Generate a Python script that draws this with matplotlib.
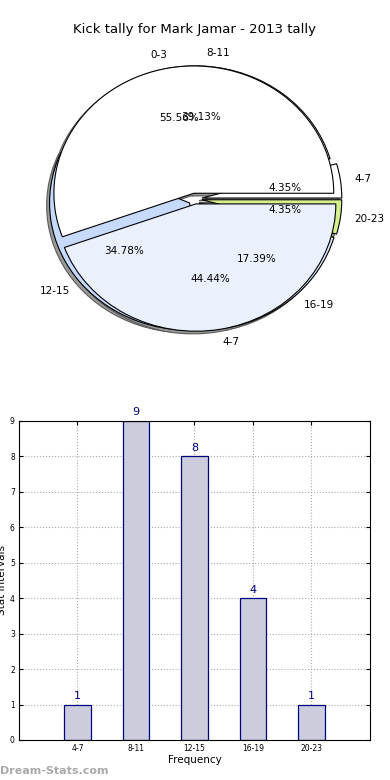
import matplotlib
matplotlib.use("Agg")
import matplotlib.pyplot as plt

# Pie A: kick tally by interval
kick_labels = ["4-7", "8-11", "12-15", "16-19", "20-23"]
kick_counts = [1, 9, 8, 4, 1]
kick_colors = ["#ffffff", "#ffffff", "#c6dafc", "#dce7fb", "#d6ee8c"]
kick_explode = [0.05, 0.045, 0.05, 0.045, 0.05]

# Pie B: second tally overlaid
other_labels = ["0-3", "4-7"]
other_counts = [5, 4]
other_colors = ["#ffffff", "#eaf0fc"]
other_explode = [0.045, 0.04]

# Bar chart
bar_labels = ["4-7", "8-11", "12-15", "16-19", "20-23"]
bar_values = [1, 9, 8, 4, 1]
y_ticks = [0, 1, 2, 3, 4, 5, 6, 7, 8, 9]

fig = plt.figure(figsize=(3.9, 7.8), dpi=100)

ax1 = fig.add_axes([0.0513, 0.541, 0.897, 0.408])
wp = dict(edgecolor="black", linewidth=0.8)
tp = dict(fontsize=7.5)
sh = dict(ox=-0.015, oy=-0.015, facecolor="#9a9a9a", edgecolor="#5a5a5a",
          linewidth=0.8, alpha=1.0)
ax1.pie(kick_counts, labels=kick_labels, colors=kick_colors, explode=kick_explode,
        autopct="%.2f%%", shadow=sh, startangle=0, wedgeprops=wp, textprops=tp)
ax1.pie(other_counts, labels=other_labels, colors=other_colors, explode=other_explode,
        autopct="%.2f%%", shadow=sh, startangle=0, wedgeprops=wp, textprops=tp)
ax1.set_aspect("auto")
ax1.set_xlim(-1.25, 1.25)
ax1.set_ylim(-1.25, 1.25)
ax1.axis("off")
ax1.set_title("Kick tally for Mark Jamar - 2013 tally", fontsize=9.5, pad=5)

ax2 = fig.add_axes([0.0487, 0.0513, 0.9, 0.409])
x = list(range(len(bar_labels)))
bars = ax2.bar(x, bar_values, width=0.45, color="#ccccdd", edgecolor="#000080",
               linewidth=0.9, zorder=2)
for xi, v in zip(x, bar_values):
    ax2.text(xi, v + 0.1, str(v), ha="center", va="bottom", color="#000080", fontsize=8)
ax2.set_xlim(-1, 5)
ax2.set_ylim(0, 9)
ax2.set_xticks(x)
ax2.set_xticklabels(bar_labels, fontsize=5.5)
ax2.set_yticks(y_ticks)
ax2.set_yticklabels([str(t) for t in y_ticks], fontsize=5.5)
ax2.tick_params(direction="in", length=3, top=True, right=True, pad=3)
ax2.grid(True, linestyle=":", color="#aaaaaa", linewidth=0.8, zorder=0)
ax2.set_axisbelow(True)
ax2.set_xlabel("Frequency", fontsize=7.5, labelpad=1)
ax2.set_ylabel("Stat Intervals", fontsize=7.5, labelpad=2)

fig.text(0.0, 0.005, "Dream-Stats.com", fontsize=8, color="#aaaaaa", fontweight="bold",
         ha="left", va="bottom")

fig.savefig("out.png", dpi=100)
